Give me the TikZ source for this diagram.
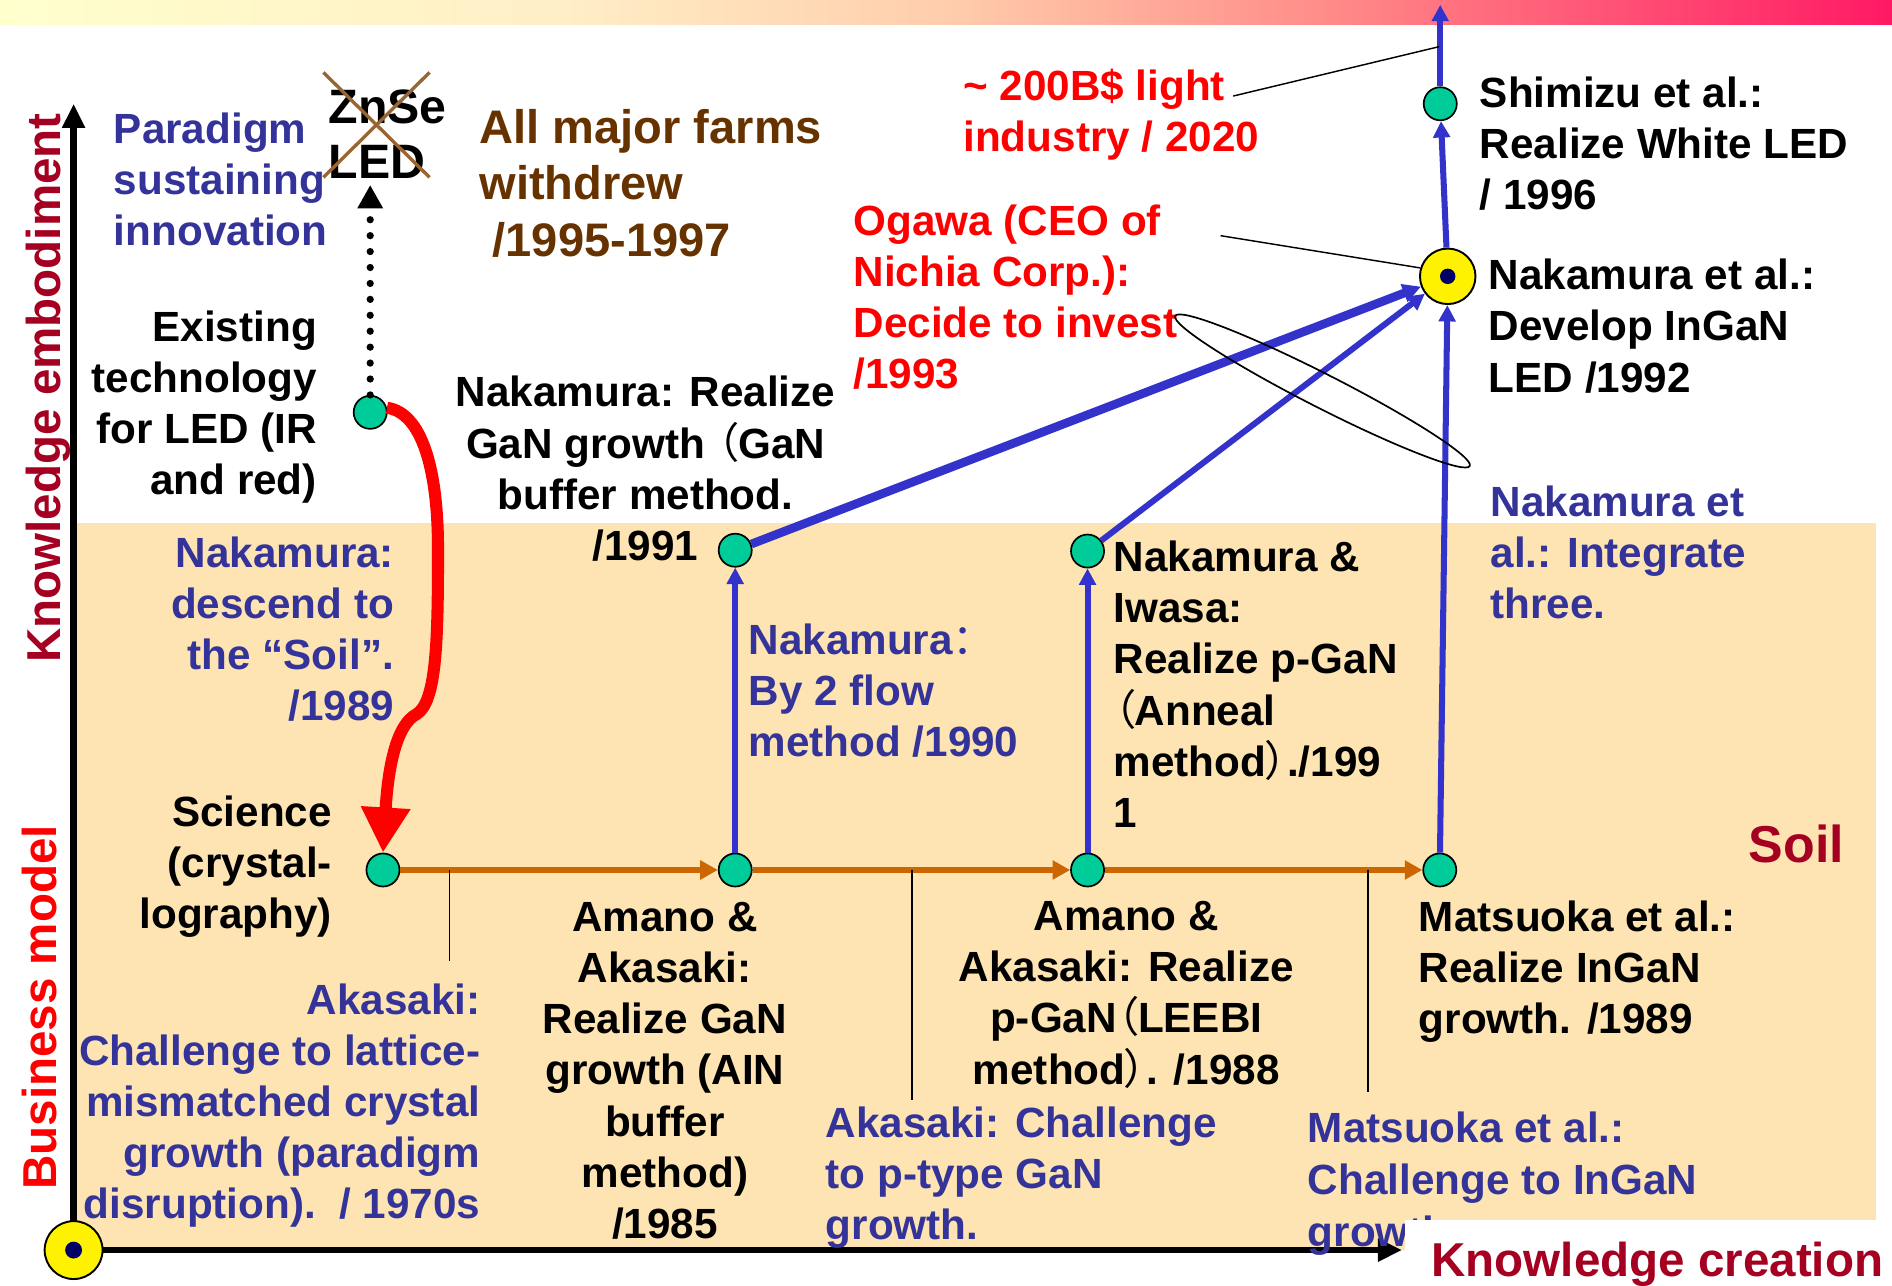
\documentclass[tikz,border=0pt]{standalone}
\usepackage{fontspec}
\setmainfont{Liberation Sans}
\newfontfamily\cjk{Noto Sans CJK SC}[RawFeature=+palt]
\usetikzlibrary{arrows.meta}

\definecolor{soil}{RGB}{253,228,178}
\definecolor{nodegreen}{RGB}{0,204,153}
\definecolor{textblue}{RGB}{51,51,153}
\definecolor{linkblue}{RGB}{51,51,204}
\definecolor{flow}{RGB}{204,102,0}
\definecolor{farmbrown}{RGB}{102,51,0}
\definecolor{crossbrown}{RGB}{153,102,51}
\definecolor{axisred}{RGB}{165,0,33}
\definecolor{navy}{RGB}{0,0,102}
\definecolor{bandA}{RGB}{255,255,204}
\definecolor{bandB}{RGB}{255,238,198}
\definecolor{bandC}{RGB}{255,205,172}
\definecolor{bandD}{RGB}{255,140,136}
\definecolor{bandE}{RGB}{255,25,100}

% multi-line block whose baseline is that of its first line
\newcommand{\tb}[2]{\begin{tabular}[t]{@{}#1@{}}#2\end{tabular}}
% full-width CJK punctuation
\newcommand{\cjkch}[1]{{\mdseries\cjk #1}}

\begin{document}
\begin{tikzpicture}[x=0.5pt,y=-0.5pt,
  lbl/.style={inner sep=0pt,font=\bfseries\fontsize{17.5}{21.15}\selectfont},
  lblk/.style={lbl,text=black},
  lblu/.style={lbl,text=textblue},
  lred/.style={lbl,text=red},
  axislabel/.style={inner sep=0pt,font=\bfseries\fontsize{19.7}{23}\selectfont},
  dot/.style={circle,draw=black,line width=0.7pt,fill=nodegreen,minimum size=13.7pt,inner sep=0pt},
  hub/.style={circle,draw=black,line width=0.8pt,fill=yellow,minimum size=23pt,inner sep=0pt,
    path picture={\fill[navy] (path picture bounding box.center) circle (3.2pt);}},
  axis/.style={draw=black,line width=2.75pt,-{Triangle[length=10pt,width=9pt]}},
  growth/.style={draw=flow,line width=2.5pt,-{Triangle[length=7.3pt,width=7.6pt]}},
  link/.style={draw=linkblue,line width=2.5pt,-{Triangle[length=6.8pt,width=6.8pt]}},
  thicklink/.style={link,line width=3.6pt,-{Triangle[length=7.5pt,width=7.5pt]}},
  leader/.style={draw=black,line width=0.6pt},
  descent/.style={draw=red,line width=5pt,-{Triangle[length=18.7pt,width=19.3pt]}},
  dotpath/.style={draw=black,line width=3pt,dash pattern=on 0pt off 6.6pt,line cap=round,-{Triangle[length=9.7pt,width=10pt]}},
  cross/.style={draw=crossbrown,line width=1.4pt}
]
\useasboundingbox (0,0) rectangle (1568,1065);

% backgrounds
\fill[soil] (61,433.5) rectangle (1555,1036);
\shade[left color=bandA,right color=bandB] (0,0) rectangle (471,20.7);
\shade[left color=bandB,right color=bandC] (470,0) rectangle (785,20.7);
\shade[left color=bandC,right color=bandD] (784,0) rectangle (1099,20.7);
\shade[left color=bandD,right color=bandE] (1098,0) rectangle (1568,20.7);

% axes
\coordinate (o) at (61,1036);
\coordinate (ytip) at (61,86);
\coordinate (xtip) at (1162,1036);
\draw[axis] (o) -- (ytip);
\draw[axis] (o) -- (xtip);
\node[hub,minimum size=24pt,path picture={\fill[navy] (path picture bounding box.center) circle (3.5pt);}] (origin) at (o) {};

% milestones
\node[dot] (exist) at (306.8,341.7) {};
\node[dot] (sci) at (317.4,721) {};
\node[dot] (am1) at (609.3,721) {};
\node[dot] (n1991) at (609.3,456) {};
\node[dot] (am2) at (901.3,721) {};
\node[dot] (iwasa) at (901.3,456.7) {};
\node[dot] (mat) at (1193.2,721) {};
\node[dot] (shim) at (1193.6,86) {};
\node[hub] (hub) at (1199.8,229) {};

% labels
\node[lblu,anchor=base west] (paradigm) at (94,119) {\tb{l}{Paradigm\\sustaining\\innovation}};
\node[inner sep=0pt,font=\bfseries\fontsize{20}{23}\selectfont,anchor=base west] (znse) at (272,102) {\tb{l}{ZnSe\\LED}};
\node[inner sep=0pt,font=\bfseries\fontsize{19.5}{23.5}\selectfont,text=farmbrown,anchor=base west] (farms) at (397,118.7) {\tb{l}{All major farms\\withdrew\\\ /1995-1997}};
\node[lred,anchor=base west] (market) at (798,83) {\tb{l}{\textasciitilde{} 200B\$ light\\industry / 2020}};
\node[lred,anchor=base west] (ogawa) at (707,194.8) {\tb{l}{Ogawa (CEO of\\Nichia Corp.):\\Decide to invest\\/1993}};
\node[lblk,anchor=base] (ganlbl) at (535,337) {\tb{c}{Nakamura: Realize\\GaN growth \cjkch{（}GaN\\buffer method.\\/1991}};
\node[lblk,anchor=base east] (existlbl) at (263,283) {\tb{r}{Existing\\technology\\for LED (IR\\and red)}};
\node[lblu,anchor=base east] (descendlbl) at (327,470.3) {\tb{r}{Nakamura:\\descend to\\the “Soil”.\\/1989}};
\node[lblk,anchor=base east] (scilbl) at (275.5,684.6) {\tb{r}{Science\\(crystal-\\lography)}};
\node[lblu,anchor=base east] (lattice) at (398.5,840.4) {\tb{r}{Akasaki:\\Challenge to lattice-\\mismatched crystal\\growth (paradigm\\disruption).\ \ / 1970s}};
\node[lblk,font=\bfseries\fontsize{17.5}{21.25}\selectfont,anchor=base] (aln) at (551,771.6) {\tb{c}{Amano \&\\Akasaki:\\Realize GaN\\growth (AIN\\buffer\\method)\\/1985}};
\node[lblu,anchor=base west] (flowlbl) at (620,542) {\tb{l}{Nakamura\cjkch{：}\\By 2 flow\\method /1990}};
\node[lblk,anchor=base west] (iwasalbl) at (922.5,473.6) {\tb{l}{Nakamura \&\\Iwasa:\\Realize p-GaN\\\cjkch{（}Anneal\\method\cjkch{）}./199\\1}};
\node[lblk,font=\bfseries\fontsize{17.5}{21.25}\selectfont,anchor=base] (leebi) at (933.4,770.8) {\tb{c}{Amano \&\\Akasaki: Realize\\p-GaN\cjkch{（}LEEBI\\method\cjkch{）}. /1988}};
\node[lblu,anchor=base west] (ptype) at (684,942.7) {\tb{l}{Akasaki: Challenge\\to p-type GaN\\growth.}};
\node[lblu,anchor=base west] (integrate) at (1235,428) {\tb{l}{Nakamura et\\al.: Integrate\\three.}};
\node[lblk,anchor=base west] (matlbl) at (1175.5,771.6) {\tb{l}{Matsuoka et al.:\\Realize InGaN\\growth. /1989}};
\node[lblu,font=\bfseries\fontsize{17.5}{21.5}\selectfont,anchor=base west] (inganch) at (1083.5,946.9) {\tb{l}{Matsuoka et al.:\\Challenge to InGaN\\growth.}};
\node[inner sep=0pt,font=\bfseries\fontsize{21.5}{25}\selectfont,text=axisred,anchor=base west] (soillbl) at (1449,714.8) {Soil};
\node[lblk,anchor=base west] (shimlbl) at (1226,89) {\tb{l}{Shimizu et al.:\\Realize White LED\\/ 1996}};
\node[lblk,anchor=base west] (inganlbl) at (1233.5,240.3) {\tb{l}{Nakamura et al.:\\Develop InGaN\\LED /1992}};

% axis captions
\fill[white] (1164.6,1011) rectangle (1568,1065);
\node[axislabel,text=axisred,anchor=base west] (xlabel) at (1186,1058) {Knowledge creation};
\node[axislabel,text=axisred,rotate=90,anchor=base] (ylabel) at (50,321.5) {Knowledge embodiment};
\node[axislabel,text=red,rotate=90,anchor=base] (bmlabel) at (47,834.8) {Business model};

% ZnSe crossed out
\draw[cross] (268,60) -- (356,147);
\draw[cross] (356,60) -- (268,147);

% crystal growth line
\draw[growth] (sci) -- (am1);
\draw[growth] (am1) -- (am2);
\draw[growth] (am2) -- (mat);

% ticks to the challenges
\coordinate (t1a) at (372.7,721); \coordinate (t1b) at (372.7,796.5);
\coordinate (t2a) at (755.9,721); \coordinate (t2b) at (755.9,911.7);
\coordinate (t3a) at (1133.8,721); \coordinate (t3b) at (1133.8,905.4);
\draw[leader] (t1a) -- (t1b);
\draw[leader] (t2a) -- (t2b);
\draw[leader] (t3a) -- (t3b);

% embodiment links
\draw[link] (am1) -- (n1991);
\draw[link] (am2) -- (iwasa);
\draw[link] (mat) -- (hub);
\draw[thicklink] (n1991) -- (hub);
\draw[link] (iwasa) -- (hub);
\draw[link] (hub) -- (shim);
\coordinate (skytop) at (1193.6,4);
\draw[link] (shim) -- (skytop);

% callouts
\coordinate (mkt) at (1192.6,38.7);
\coordinate (marketend) at (1022,79.6);
\draw[leader] (marketend) -- (mkt);
\coordinate (ogawaend) at (1011.5,195.3);
\draw[leader] (ogawaend) -- (hub.163);
\draw[leader,line width=0.7pt,rotate around={-27:(1096,324)}] (1096,324) ellipse [x radius=68.5pt,y radius=7pt];

% descent into the soil
\draw[descent] (exist.15) .. controls (350,342) and (363,390) .. (363,455)
  .. controls (363,530) and (362,582) .. (345,592)
  .. controls (330,600) and (322,630) .. (sci.north);

% paradigm-sustaining path
\coordinate (dottop) at (306.8,153.3);
\draw[dotpath] (exist.north) -- (dottop);
\end{tikzpicture}
\end{document}
